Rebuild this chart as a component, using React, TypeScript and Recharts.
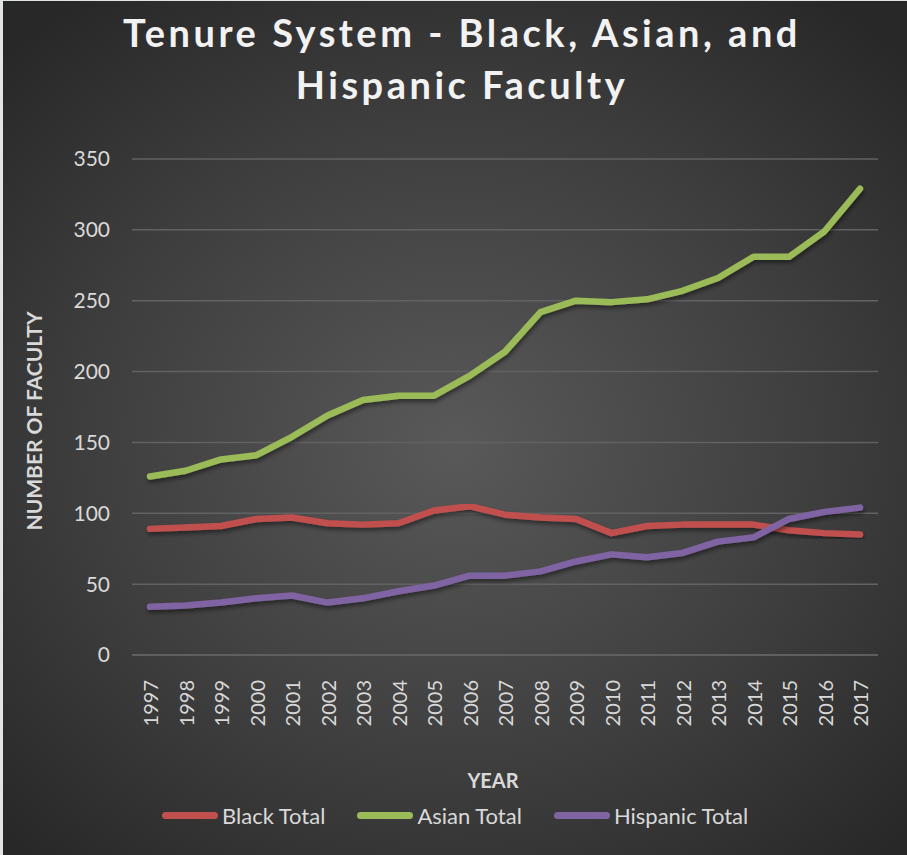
import React from "react";
import { LineChart, Line, XAxis, YAxis, CartesianGrid } from "recharts";

const years = [
  "1997", "1998", "1999", "2000", "2001", "2002", "2003", "2004", "2005", "2006", "2007",
  "2008", "2009", "2010", "2011", "2012", "2013", "2014", "2015", "2016", "2017",
];
const blackTotal = [89, 90, 91, 96, 97, 93, 92, 93, 102, 105, 99, 97, 96, 86, 91, 92, 92, 92, 88, 86, 85];
const asianTotal = [126, 130, 138, 141, 154, 169, 180, 183, 183, 197, 214, 242, 250, 249, 251, 257, 266, 281, 281, 299, 329];
const hispanicTotal = [34, 35, 37, 40, 42, 37, 40, 45, 49, 56, 56, 59, 66, 71, 69, 72, 80, 83, 96, 101, 104];
const yTicks = [0, 50, 100, 150, 200, 250, 300, 350];

const series = [
  { key: "black", name: "Black Total", color: "#c0504d", values: blackTotal },
  { key: "asian", name: "Asian Total", color: "#9bbb59", values: asianTotal },
  { key: "hispanic", name: "Hispanic Total", color: "#8064a2", values: hispanicTotal },
];

const data = years.map((year, i) => ({
  year,
  black: blackTotal[i],
  asian: asianTotal[i],
  hispanic: hispanicTotal[i],
}));

const FONT = "Lato, 'Open Sans', sans-serif";
const TEXT = "#d9d9d9";

const YearTick = ({ x, y, payload }: any) => (
  <text
    x={x}
    y={y + 17}
    transform={`rotate(-90, ${x}, ${y + 17})`}
    textAnchor="end"
    dominantBaseline="central"
    fill={TEXT}
    fontSize={20}
    fontFamily={FONT}
  >
    {payload.value}
  </text>
);

export default function App() {
  return (
    <div style={{ position: "absolute", left: 0, top: 0, width: 907, height: 855, background: "#e1e5e5" }}>
      <div
        style={{
          position: "absolute",
          left: 3,
          top: 1,
          width: 904,
          height: 854,
          background: "radial-gradient(ellipse 70% 65% at 50% 52%, #595959 0%, #3d3d3d 60%, #282828 100%)",
          fontFamily: FONT,
        }}
      >
        <div
          style={{
            position: "absolute",
            top: 5,
            left: 0,
            width: 904,
            paddingLeft: 14,
            boxSizing: "border-box",
            textAlign: "center",
            color: "#f2f2f2",
            fontWeight: 700,
            fontSize: 38,
            letterSpacing: 3.5,
            lineHeight: "52px",
          }}
        >
          Tenure System - Black, Asian, and
          <br />
          Hispanic Faculty
        </div>

        <LineChart
          width={904}
          height={854}
          data={data}
          margin={{ top: 158, right: 29, bottom: 0, left: 0 }}
        >
          <defs>
            <filter id="lineShadow" x="-5%" y="-5%" width="110%" height="120%">
              <feDropShadow dx="1" dy="3" stdDeviation="2" floodColor="#000" floodOpacity="0.45" />
            </filter>
          </defs>
          <CartesianGrid vertical={false} stroke="#626262" strokeWidth={1.5} />
          <XAxis
            dataKey="year"
            height={200}
            padding={{ left: 18, right: 18 }}
            axisLine={{ stroke: "#626262", strokeWidth: 1.5 }}
            tickLine={false}
            interval={0}
            tick={<YearTick />}
          />
          <YAxis
            width={129}
            domain={[0, 350]}
            ticks={yTicks}
            axisLine={false}
            tickLine={false}
            tickSize={0}
            tickMargin={22}
            tick={{ fill: TEXT, fontSize: 21, fontFamily: FONT }}
          />
          {series.map((s) => (
            <Line
              key={s.key}
              dataKey={s.key}
              name={s.name}
              type="linear"
              stroke={s.color}
              strokeWidth={6.5}
              strokeLinecap="round"
              strokeLinejoin="round"
              dot={false}
              activeDot={false}
              filter="url(#lineShadow)"
              isAnimationActive={false}
            />
          ))}
        </LineChart>

        <div
          style={{
            position: "absolute",
            left: 30,
            top: 420,
            transform: "translate(-50%, -50%) rotate(-90deg)",
            color: TEXT,
            fontWeight: 700,
            fontSize: 21,
            whiteSpace: "nowrap",
          }}
        >
          NUMBER OF FACULTY
        </div>

        <div
          style={{
            position: "absolute",
            left: 490,
            top: 779,
            transform: "translate(-50%, -50%)",
            color: TEXT,
            fontWeight: 700,
            fontSize: 20,
          }}
        >
          YEAR
        </div>

        <div
          style={{
            position: "absolute",
            left: 159,
            top: 801,
            display: "flex",
            gap: 32,
            color: TEXT,
            fontSize: 22,
          }}
        >
          {series.map((s) => (
            <div key={s.key} style={{ display: "flex", alignItems: "center" }}>
              <span
                style={{
                  display: "inline-block",
                  width: 56,
                  height: 7,
                  borderRadius: 4,
                  background: s.color,
                  marginRight: 4,
                }}
              />
              <span>{s.name}</span>
            </div>
          ))}
        </div>
      </div>
    </div>
  );
}
